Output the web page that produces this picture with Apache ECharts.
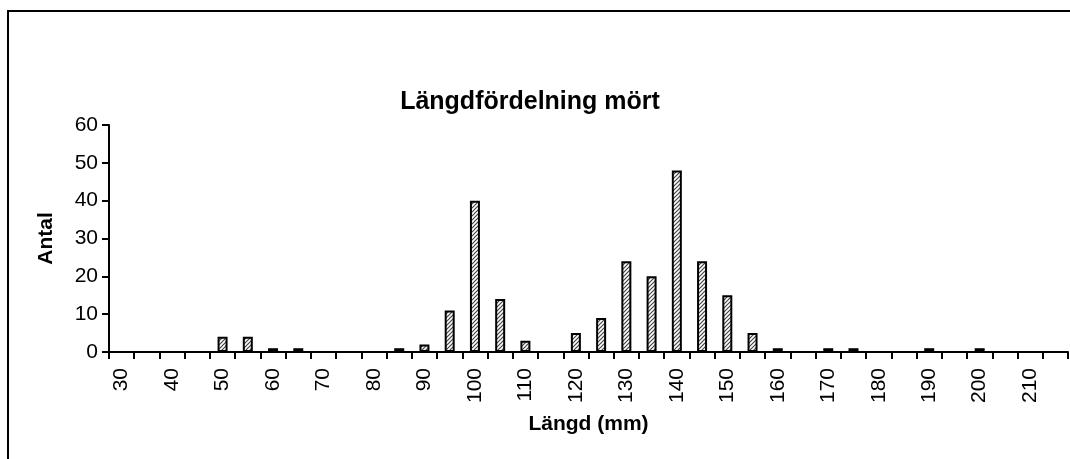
<!DOCTYPE html>
<html lang="sv">
<head>
  <meta charset="UTF-8">
  <title>Längdfördelning mört</title>
  <script src="https://cdn.jsdelivr.net/npm/echarts@6/dist/echarts.min.js"></script>
  <style>
    html, body { margin: 0; padding: 0; background: #fff; }
  </style>
</head>
<body>
<div id="main" style="width: 1070px;height:459px;"></div>
<script>
  // längdklasser (mm) och antal fiskar
  var langd = ['30', '35', '40', '45', '50', '55', '60', '65', '70', '75',
    '80', '85', '90', '95', '100', '105', '110', '115', '120', '125',
    '130', '135', '140', '145', '150', '155', '160', '165', '170', '175',
    '180', '185', '190', '195', '200', '205', '210', '215'];
  var antal = [0, 0, 0, 0, 4, 4, 1, 1, 0, 0,
    0, 1, 2, 11, 40, 14, 3, 0, 5, 9,
    24, 20, 48, 24, 15, 5, 1, 0, 1, 1,
    0, 0, 1, 0, 1, 0, 0, 0];

  // snedstreckat mönster som i originalet
  var c = document.createElement('canvas');
  c.width = 4; c.height = 4;
  var ctx = c.getContext('2d');
  ctx.fillStyle = '#fff';
  ctx.fillRect(0, 0, 4, 4);
  ctx.strokeStyle = '#444';
  ctx.lineWidth = 1.2;
  ctx.beginPath();
  ctx.moveTo(0, 4); ctx.lineTo(4, 0);
  ctx.moveTo(-1, 1); ctx.lineTo(1, -1);
  ctx.moveTo(3, 5); ctx.lineTo(5, 3);
  ctx.stroke();

  var font = '"Liberation Sans", Arial, sans-serif';
  var myChart = echarts.init(document.querySelector('#main'), null, {renderer: 'canvas'});

  var option = {
    animation: false,
    backgroundColor: '#fff',
    title: {
      text: 'Längdfördelning mört',
      left: 525,
      top: 85,
      textAlign: 'center',
      textStyle: { fontFamily: font, fontSize: 25, fontWeight: 'bold', color: '#000' }
    },
    graphic: [{
      type: 'rect',
      shape: { x: 8, y: 11, width: 1100, height: 500 },
      style: { fill: 'none', stroke: '#000', lineWidth: 2 },
      silent: true
    }],
    grid: { left: 109, right: 2, top: 125, bottom: 107 },
    xAxis: {
      type: 'category',
      data: langd,
      boundaryGap: true,
      name: 'Längd (mm)',
      nameLocation: 'middle',
      nameGap: 62,
      nameTextStyle: { fontFamily: font, fontSize: 21, fontWeight: 'bold', color: '#000' },
      axisLine: { lineStyle: { color: '#000', width: 2 } },
      axisTick: { show: true, interval: 0, length: 7, lineStyle: { color: '#000', width: 2 } },
      axisLabel: { interval: 1, rotate: 90, margin: 16, fontFamily: font, fontSize: 21, color: '#000' },
      splitLine: { show: false }
    },
    yAxis: {
      type: 'value',
      min: 0,
      max: 60,
      interval: 10,
      name: 'Antal',
      nameLocation: 'middle',
      nameGap: 52,
      nameTextStyle: { fontFamily: font, fontSize: 21, fontWeight: 'bold', color: '#000' },
      axisLine: { show: true, lineStyle: { color: '#000', width: 2 } },
      axisTick: { show: true, length: 7, lineStyle: { color: '#000', width: 2 } },
      axisLabel: { margin: 11, fontFamily: font, fontSize: 21, color: '#000' },
      splitLine: { show: false }
    },
    series: [{
      type: 'bar',
      data: antal,
      barWidth: 10,
      itemStyle: {
        color: { image: c, repeat: 'repeat' },
        borderColor: '#000',
        borderWidth: 2
      }
    }]
  };

  myChart.setOption(option);
</script>
</body>
</html>
